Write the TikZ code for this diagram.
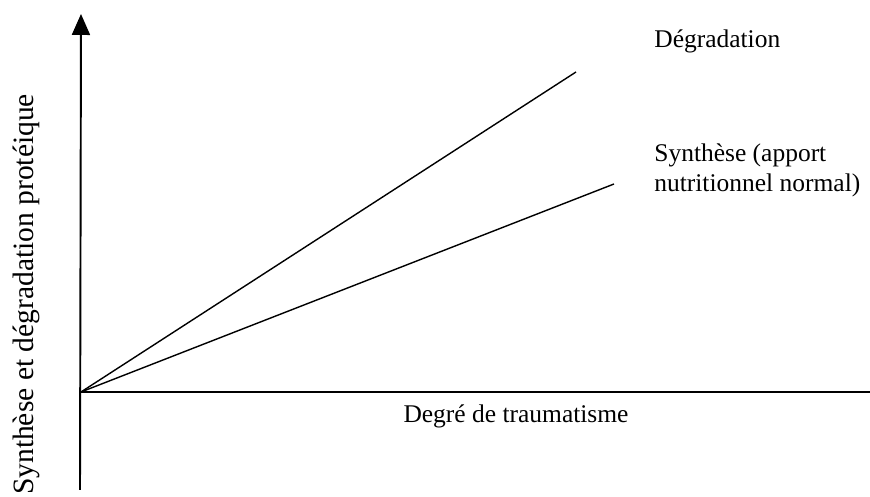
\documentclass[tikz,border=0pt]{standalone}
\usepackage{fontspec}
\setmainfont{Liberation Serif}
\usetikzlibrary{arrows.meta}

\begin{document}
\begin{tikzpicture}
	\useasboundingbox (0, 0) rectangle (17.4, 9.94);
	\tikzset{axis/.style={line width=1.1pt},
		curve/.style={line width=0.8pt},
		lbl/.style={inner sep=0pt, font=\fontsize{14.5}{17.6}\selectfont}}
	\coordinate (O) at (1.62, 2.1);
	\coordinate (ybot) at (1.6, 0.14);
	\coordinate (ytop) at (1.62, 9.66);
	\coordinate (xend) at (17.4, 2.1);
	\coordinate (deg) at (11.52, 8.5);
	\coordinate (syn) at (12.28, 6.26);
	\draw[axis, -{Triangle[length=0.42cm, width=0.36cm]}] (ybot) -- (ytop);
	\draw[axis] (O) -- (xend);
	\foreach \e in {deg, syn}
		\draw[curve] (O) -- (\e);
	\node[lbl, anchor=base west] (tdeg) at (13.08, 8.98) {Dégradation};
	\node[lbl, anchor=north west, align=left] (tsyn) at (13.08, 7.08) {Synthèse (apport\\nutritionnel normal)};
	\node[lbl, anchor=base] (tx) at (10.32, 1.48) {Degré de traumatisme};
	\node[lbl, font=\fontsize{16.8}{20}\selectfont, rotate=90, anchor=base] (ty) at (0.66, 4.05) {Synthèse et dégradation protéique};
\end{tikzpicture}
\end{document}
